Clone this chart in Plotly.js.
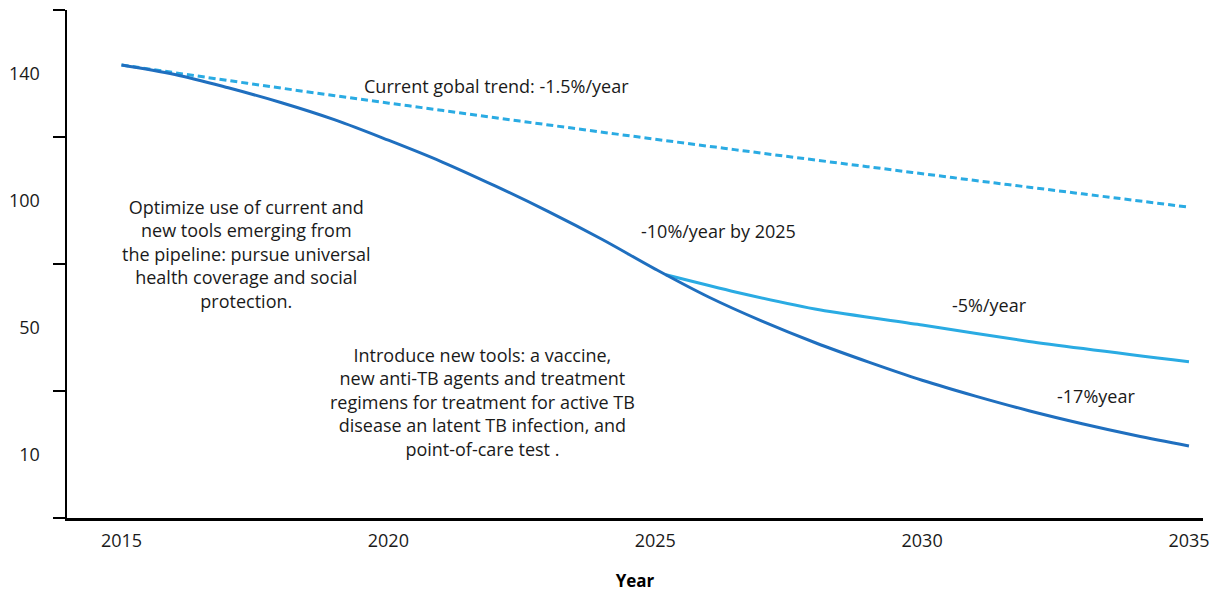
<!DOCTYPE html>
<html>
<head>
<meta charset="utf-8">
<script src="https://cdn.plot.ly/plotly-3.0.1.min.js"></script>
<style>html,body{margin:0;padding:0;background:#fff;}#chart{width:1221px;height:594px;}</style>
</head>
<body>
<div id="chart"></div>
<script>
// Current global trend (-1.5%/year), dashed
const trendYears = [2015, 2017, 2019, 2021, 2023, 2025, 2027, 2029, 2031, 2033, 2035];
const trendValues = [142.7, 137.8, 133.0, 128.4, 123.8, 119.3, 114.9, 110.6, 106.3, 102.1, 97.9];

// -10%/year by 2025, then -17%/year
const fastYears = [2015, 2016, 2017, 2018, 2019, 2020, 2021, 2022, 2023, 2024, 2025, 2026, 2027, 2028, 2029, 2030, 2031, 2032, 2033, 2034, 2035];
const fastValues = [142.7, 139.7, 135.5, 130.8, 125.4, 119.0, 112.2, 104.6, 96.5, 87.8, 78.4, 69.6, 62.0, 55.2, 49.1, 43.4, 38.4, 33.8, 29.7, 26.0, 22.7];

// -5%/year branch
const slowYears = [2025.2, 2026.5, 2028.1, 2030, 2032, 2035];
const slowValues = [76.6, 71.2, 65.5, 60.8, 55.6, 49.2];

// Axis labels
const xTickVals = [2015, 2020, 2025, 2030, 2035];
const xTickText = ['2015', '2020', '2025', '2030', '2035'];
const yLabelVals = [20, 60, 100, 140];
const yLabelText = ['10', '50', '100', '140'];
const yTickMarks = [0, 40, 80, 120, 160];

const FONT = '"Open Sans", Lato, sans-serif';
const DARK = '#1f6fbf';
const LIGHT = '#2aabe3';

const traces = [
  {x: trendYears, y: trendValues, type: 'scatter', mode: 'lines', line: {color: LIGHT, width: 3, dash: '7px,4px', shape: 'spline'}, hoverinfo: 'skip'},
  {x: slowYears, y: slowValues, type: 'scatter', mode: 'lines', line: {color: LIGHT, width: 3, shape: 'spline', smoothing: 0.6}, hoverinfo: 'skip'},
  {x: fastYears, y: fastValues, type: 'scatter', mode: 'lines', line: {color: DARK, width: 3, shape: 'spline'}, hoverinfo: 'skip'}
];

const annFont = {family: FONT, size: 18, color: '#1a1a1a'};
const layout = {
  width: 1221, height: 594,
  margin: {l: 67, r: 18, t: 10, b: 76},
  paper_bgcolor: '#fff', plot_bgcolor: '#fff',
  showlegend: false,
  font: {family: FONT, size: 18, color: '#1a1a1a'},
  xaxis: {
    range: [2013.979, 2035.263],
    showgrid: false, zeroline: false,
    showline: true, linecolor: '#000', linewidth: 2.5,
    tickmode: 'array', tickvals: xTickVals, ticktext: xTickText,
    ticks: '', ticklabelstandoff: 5,
    tickfont: {family: FONT, size: 18, color: '#1a1a1a'},
    title: {text: '<b>Year</b>', font: {family: FONT, size: 17, color: '#000'}, standoff: 24}
  },
  yaxis: {
    range: [0, 160],
    showgrid: false, zeroline: false,
    showline: true, linecolor: '#000', linewidth: 2.5,
    tickmode: 'array', tickvals: yLabelVals, ticktext: yLabelText,
    ticks: '', ticklabelstandoff: 21,
    tickfont: {family: FONT, size: 18, color: '#1a1a1a'},
    minor: {tickmode: 'array', tickvals: yTickMarks, ticks: 'outside', ticklen: 12, tickwidth: 2.5, tickcolor: '#000', showgrid: false}
  },
  annotations: [
    {x: 2022.02, y: 136.1, xref: 'x', yref: 'y', text: 'Current gobal trend: -1.5%/year', showarrow: false, font: annFont},
    {x: 2017.35, y: 83.1, xref: 'x', yref: 'y', text: 'Optimize use of current and<br>new tools emerging from<br>the pipeline: pursue universal<br>health coverage and social<br>protection.', showarrow: false, align: 'center', font: annFont},
    {x: 2021.77, y: 36.5, xref: 'x', yref: 'y', text: 'Introduce new tools: a vaccine,<br>new anti-TB agents and treatment<br>regimens for treatment for active TB<br>disease an latent TB infection, and<br>point-of-care test .', showarrow: false, align: 'center', font: annFont},
    {x: 2026.19, y: 90.4, xref: 'x', yref: 'y', text: '-10%/year by 2025', showarrow: false, font: annFont},
    {x: 2031.26, y: 67.1, xref: 'x', yref: 'y', text: '-5%/year', showarrow: false, font: annFont},
    {x: 2033.26, y: 38.4, xref: 'x', yref: 'y', text: '-17%year', showarrow: false, font: annFont}
  ]
};

Plotly.newPlot('chart', traces, layout, {displayModeBar: false, staticPlot: true});
</script>
</body>
</html>
